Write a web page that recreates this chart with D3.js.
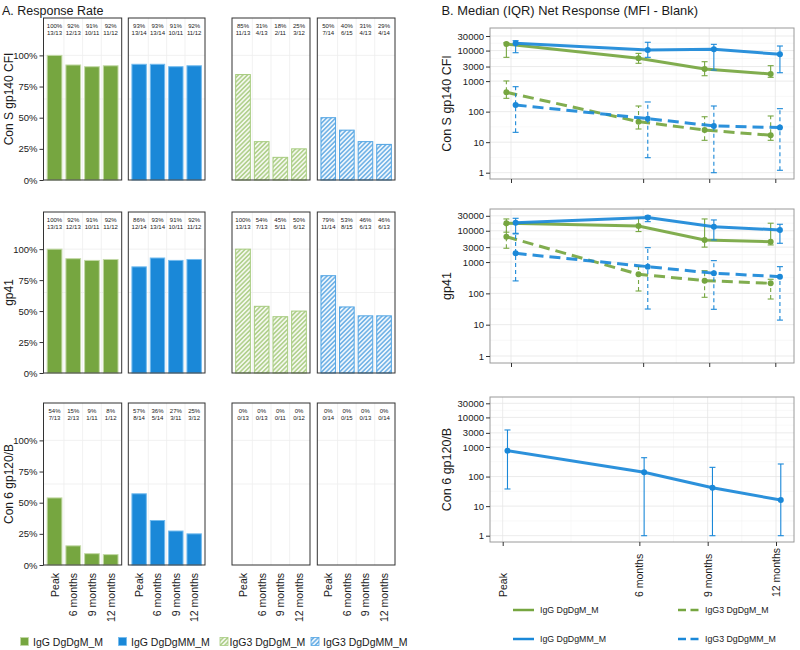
<!DOCTYPE html>
<html><head><meta charset="utf-8">
<script src="https://cdn.jsdelivr.net/npm/d3@7"></script>
<style>body{margin:0;background:#fff;} text{font-family:"Liberation Sans",Arial,Helvetica,sans-serif;fill:#1a1a1a;}</style>
</head><body><svg id="c" width="800" height="650"></svg>
<script>
// ---------------- DATA ----------------
const timepoints = ["Peak", "6 months", "9 months", "12 months"];
const timeMonths = [0, 6, 9, 12];
const antigens = ["Con S gp140 CFI", "gp41", "Con 6 gp120/B"];
const groups = ["IgG DgDgM_M", "IgG DgDgMM_M", "IgG3 DgDgM_M", "IgG3 DgDgMM_M"];
const pctTicks = [0, 0.25, 0.5, 0.75, 1];
const logTicks = [1, 10, 100, 1000, 3000, 10000, 30000];

// Panel A: responders / total, per group (rows) and timepoint (cols)
const posConS = [[13, 12, 10, 11], [13, 13, 10, 11], [11, 4, 2, 3], [7, 6, 4, 4]];
const totConS = [[13, 13, 11, 12], [14, 14, 11, 12], [13, 13, 11, 12], [14, 15, 13, 14]];
const posGp41 = [[13, 12, 10, 11], [12, 13, 10, 11], [13, 7, 5, 6], [11, 8, 6, 6]];
const totGp41 = [[13, 13, 11, 12], [14, 14, 11, 12], [13, 13, 11, 12], [14, 15, 13, 13]];
const posCon6 = [[7, 2, 1, 1], [8, 5, 3, 3], [0, 0, 0, 0], [0, 0, 0, 0]];
const totCon6 = [[13, 13, 11, 12], [14, 14, 11, 12], [13, 13, 11, 12], [14, 15, 13, 14]];

// Panel B: median, Q1, Q3 of net MFI, per group and timepoint (null = not shown)
const medConS = [[16400, 5600, 2500, 1710], [17300, 10400, 11000, 7550], [430, 47, 25, 16.8], [165, 59, 34, 30]];
const q1ConS  = [[6000, 3830, 1500, 1330], [8500, 6000, 2300, 1880], [273, 27, 11.5, 11.5], [21, 3.1, 1, 1.2]];
const q3ConS  = [[18100, 8100, 4320, 3200], [21000, 18700, 16000, 14100], [1010, 153, 68, 72], [656, 207, 153, 125]];
const medGp41 = [[17400, 14200, 5080, 4490], [18100, 26300, 13500, 10600], [6460, 408, 255, 210], [1900, 713, 439, 342]];
const q1Gp41  = [[9000, 9400, 3000, 3520], [8300, 19500, 5080, 3980], [2760, 119, 75, 66], [250, 31.6, 31, 14]];
const q3Gp41  = [[23800, 26000, 23800, 17400], [25000, 30000, 22100, 16100], [16000, 713, 530, 282], [7900, 2880, 1110, 713]];
const medCon6 = [null, [750, 139, 42, 16], null, null];
const q1Con6  = [null, [38, 1, 1, 1], null, null];
const q3Con6  = [null, [3760, 434, 205, 266], null, null];

const posAll = [posConS, posGp41, posCon6];
const totAll = [totConS, totGp41, totCon6];
const medAll = [medConS, medGp41, medCon6];
const q1All = [q1ConS, q1Gp41, q1Con6];
const q3All = [q3ConS, q3Gp41, q3Con6];

// ---------------- STYLE / LAYOUT ----------------
const GREEN = "#76a640", BLUE = "#1a88d8";
const svg = d3.select("#c");
const defs = svg.append("defs");
function hatch(id, bg, fg) {
  const p = defs.append("pattern").attr("id", id).attr("patternUnits", "userSpaceOnUse")
    .attr("width", 3.2).attr("height", 3.2).attr("patternTransform", "rotate(45)");
  p.append("rect").attr("width", 3.2).attr("height", 3.2).attr("fill", bg);
  p.append("line").attr("x1", 0.8).attr("y1", 0).attr("x2", 0.8).attr("y2", 3.2)
    .attr("stroke", fg).attr("stroke-width", 1.1);
}
hatch("hG", "#f4f8ee", "#94c063");
hatch("hB", "#eef6fc", "#3a95dc");
const barStyle = [
  { fill: GREEN, stroke: "#c3d9a6" },
  { fill: BLUE, stroke: "#74bbee" },
  { fill: "url(#hG)", stroke: "#a6cb7e" },
  { fill: "url(#hB)", stroke: "#4fa3e3" }
];

// ---------- Panel A ----------
svg.append("text").attr("x", 2).attr("y", 15).attr("font-size", 12.5).text("A. Response Rate");
const panelXA = [[43.5, 121.7], [128.3, 205], [232, 310], [317.3, 395]];
const rowYA = [[18, 180], [212, 373], [403, 565]];

antigens.forEach((ag, r) => {
  const [top, bot] = rowYA[r];
  const y = d3.scaleLinear().domain([0, 1.3]).range([bot, top]);
  groups.forEach((gname, g) => {
    const [x0, x1] = panelXA[g];
    const x = d3.scaleBand().domain(timepoints).range([x0, x1]).paddingInner(0.16).paddingOuter(0.17);
    const gp = svg.append("g");
    gp.append("rect").attr("x", x0).attr("y", top).attr("width", x1 - x0).attr("height", bot - top).attr("fill", "#fff");
    // faint grid
    [1.0, 0.65].forEach(v => gp.append("line").attr("x1", x0).attr("x2", x1).attr("y1", y(v)).attr("y2", y(v))
      .attr("stroke", "#eeeeee").attr("stroke-width", 0.8));
    timepoints.slice(1).forEach(t => {
      const xv = x(t) - x.step() * x.paddingInner() / 2;
      gp.append("line").attr("x1", xv).attr("x2", xv).attr("y1", top).attr("y2", bot)
        .attr("stroke", "#eeeeee").attr("stroke-width", 0.8);
    });
    const data = timepoints.map((t, i) => ({ t, n: posAll[r][g][i], d: totAll[r][g][i] }));
    gp.selectAll("rect.bar").data(data).join("rect").attr("class", "bar")
      .attr("x", d => x(d.t) + 0.5).attr("width", x.bandwidth() - 1)
      .attr("y", d => y(d.n / d.d)).attr("height", d => y(0) - y(d.n / d.d))
      .attr("fill", barStyle[g].fill).attr("stroke", d => d.n > 0 ? barStyle[g].stroke : "none").attr("stroke-width", 1);
    gp.selectAll("text.pct").data(data).join("text").attr("class", "pct")
      .attr("x", d => x(d.t) + x.bandwidth() / 2).attr("y", top + 9.5).attr("text-anchor", "middle")
      .attr("font-size", 6).attr("fill", "#333").text(d => Math.round(100 * d.n / d.d) + "%");
    gp.selectAll("text.frac").data(data).join("text").attr("class", "frac")
      .attr("x", d => x(d.t) + x.bandwidth() / 2).attr("y", top + 17).attr("text-anchor", "middle")
      .attr("font-size", 6).attr("fill", "#333").text(d => d.n + "/" + d.d);
    gp.append("rect").attr("x", x0).attr("y", top).attr("width", x1 - x0).attr("height", bot - top)
      .attr("fill", "none").attr("stroke", "#333").attr("stroke-width", 1);
    if (r === 2) {
      gp.selectAll("text.xl").data(timepoints).join("text").attr("class", "xl")
        .attr("transform", t => `translate(${x(t) + x.bandwidth() / 2},573) rotate(-90)`)
        .attr("text-anchor", "end").attr("dominant-baseline", "central").attr("font-size", 10.5).text(t => t);
    }
    if (g === 0) {
      const ax = svg.append("g").attr("transform", `translate(${x0},0)`)
        .call(d3.axisLeft(y).tickValues(pctTicks).tickFormat(d3.format(".0%")).tickSize(4).tickPadding(2));
      ax.select(".domain").remove();
      ax.selectAll("line").attr("stroke", "#333");
      ax.selectAll("text").attr("font-size", 9.5).attr("fill", "#222").attr("font-family", "Liberation Sans, Arial, sans-serif");
      svg.append("text").attr("transform", `translate(9,${(top + bot) / 2}) rotate(-90)`)
        .attr("text-anchor", "middle").attr("dominant-baseline", "central").attr("font-size", 12).text(ag);
    }
  });
});

// Legend A
const legA = [{ x: 20.5, tx: 33 }, { x: 118.5, tx: 131 }, { x: 220, tx: 229.5 }, { x: 311, tx: 323 }];
groups.forEach((gname, g) => {
  svg.append("rect").attr("x", legA[g].x).attr("y", 637.5).attr("width", 8).attr("height", 8)
    .attr("fill", barStyle[g].fill).attr("stroke", barStyle[g].stroke).attr("stroke-width", 0.8);
  svg.append("text").attr("x", legA[g].tx).attr("y", 641.5).attr("dominant-baseline", "central")
    .attr("font-size", 10.5).text(gname);
});

// ---------- Panel B ----------
svg.append("text").attr("x", 441.5).attr("y", 15).attr("font-size", 12.9).text("B. Median (IQR) Net Response (MFI - Blank)");
const panelXB = [490, 794];
const rowYB = [[28, 179], [209, 363], [397, 542]];
const logAnchors = [[172.7, 36], [356, 215.8], [535.7, 403.3]];
const xAnchors = [[511, 775.3], [511, 775.3], [502.7, 776]];
const seriesColor = [GREEN, BLUE, GREEN, BLUE];
const seriesDash = [null, null, "11,6", "11,6"];
const dodge = [-0.21, 0.21, -0.21, 0.21];

antigens.forEach((ag, r) => {
  const [top, bot] = rowYB[r];
  const [x0, x1] = panelXB;
  const y = d3.scaleLog().domain([1, 30000]).range(logAnchors[r]);
  const x = d3.scaleLinear().domain([0, 12]).range(xAnchors[r]);
  const gp = svg.append("g");
  gp.append("rect").attr("x", x0).attr("y", top).attr("width", x1 - x0).attr("height", bot - top).attr("fill", "#fff");
  // minor grid
  const minorY = [];
  for (let i = 0; i < logTicks.length - 1; i++) minorY.push(Math.sqrt(logTicks[i] * logTicks[i + 1]));
  minorY.forEach(v => gp.append("line").attr("x1", x0).attr("x2", x1).attr("y1", y(v)).attr("y2", y(v)).attr("stroke", "#f3f3f3").attr("stroke-width", 0.6));
  [3, 7.5, 10.5].forEach(v => gp.append("line").attr("x1", x(v)).attr("x2", x(v)).attr("y1", top).attr("y2", bot).attr("stroke", "#f3f3f3").attr("stroke-width", 0.6));
  logTicks.forEach(v => gp.append("line").attr("x1", x0).attr("x2", x1).attr("y1", y(v)).attr("y2", y(v)).attr("stroke", "#e6e6e6").attr("stroke-width", 0.8));
  timeMonths.forEach(v => gp.append("line").attr("x1", x(v)).attr("x2", x(v)).attr("y1", top).attr("y2", bot).attr("stroke", "#e6e6e6").attr("stroke-width", 0.8));

  groups.forEach((gname, g) => {
    const med = medAll[r][g];
    if (!med) return;
    const pts = timeMonths.map((m, i) => ({ m: m + dodge[g], v: med[i], lo: q1All[r][g][i], hi: q3All[r][g][i] }));
    const line = d3.line().x(d => x(d.m)).y(d => y(d.v));
    gp.append("path").datum(pts).attr("d", line).attr("fill", "none").attr("stroke", seriesColor[g])
      .attr("stroke-width", 3).attr("stroke-opacity", 0.92).attr("stroke-dasharray", seriesDash[g]);
    pts.forEach(d => {
      const xx = x(d.m);
      gp.append("line").attr("x1", xx).attr("x2", xx).attr("y1", y(d.lo)).attr("y2", y(d.hi))
        .attr("stroke", seriesColor[g]).attr("stroke-width", 1.1).attr("stroke-dasharray", seriesDash[g] ? "4,3" : null);
      [d.lo, d.hi].forEach(v => gp.append("line").attr("x1", xx - 3).attr("x2", xx + 3).attr("y1", y(v)).attr("y2", y(v))
        .attr("stroke", seriesColor[g]).attr("stroke-width", 1.1));
    });
    gp.selectAll(null).data(pts).join("circle").attr("cx", d => x(d.m)).attr("cy", d => y(d.v)).attr("r", 3)
      .attr("fill", seriesColor[g]);
  });
  gp.append("rect").attr("x", x0).attr("y", top).attr("width", x1 - x0).attr("height", bot - top)
    .attr("fill", "none").attr("stroke", "#9a9a9a").attr("stroke-width", 1);
  const ay = svg.append("g").attr("transform", `translate(${x0},0)`)
    .call(d3.axisLeft(y).tickValues(logTicks).tickFormat(d3.format("d")).tickSize(4).tickPadding(2));
  ay.select(".domain").remove();
  ay.selectAll("line").attr("stroke", "#333");
  ay.selectAll("text").attr("font-size", 9.5).attr("fill", "#222").attr("font-family", "Liberation Sans, Arial, sans-serif");
  const axx = svg.append("g").attr("transform", `translate(0,${bot})`)
    .call(d3.axisBottom(x).tickValues(timeMonths).tickFormat("").tickSize(4));
  axx.select(".domain").remove();
  axx.selectAll("line").attr("stroke", "#333");
  if (r === 2) {
    svg.selectAll(null).data(timepoints).join("text")
      .attr("transform", (t, i) => `translate(${x(timeMonths[i])},597) rotate(-90)`)
      .attr("text-anchor", "start").attr("dominant-baseline", "central").attr("font-size", 10.5).text(t => t);
  }
  svg.append("text").attr("transform", `translate(447,${(top + bot) / 2}) rotate(-90)`)
    .attr("text-anchor", "middle").attr("dominant-baseline", "central").attr("font-size", 12.5).text(ag);
});

// Legend B
const legB = [{ x: 513, y: 610 }, { x: 513, y: 639 }, { x: 678, y: 610 }, { x: 678, y: 639 }];
groups.forEach((gname, g) => {
  svg.append("line").attr("x1", legB[g].x).attr("x2", legB[g].x + 21).attr("y1", legB[g].y).attr("y2", legB[g].y)
    .attr("stroke", seriesColor[g]).attr("stroke-width", 2.5).attr("stroke-dasharray", seriesDash[g] ? "8,4.5" : null);
  svg.append("text").attr("x", legB[g].x + 27).attr("y", legB[g].y).attr("dominant-baseline", "central")
    .attr("font-size", 8.8).text(gname);
});
</script></body></html>
